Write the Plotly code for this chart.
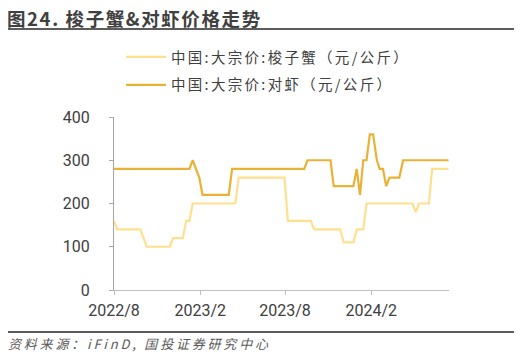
import plotly.graph_objects as go

# 梭子蟹 (crab) price breakpoints
crab_dates = ["2022-08-01", "2022-08-08", "2022-09-26", "2022-10-10", "2022-11-28", "2022-12-05",
              "2022-12-26", "2023-01-02", "2023-01-09", "2023-01-16", "2023-04-17", "2023-04-24",
              "2023-07-31", "2023-08-07", "2023-09-25", "2023-10-02", "2023-11-27", "2023-12-04",
              "2023-12-25", "2024-01-01", "2024-01-15", "2024-01-22", "2024-04-29", "2024-05-06",
              "2024-05-13", "2024-06-03", "2024-06-10", "2024-07-15"]
crab_vals = [160, 140, 140, 100, 100, 120,
             120, 160, 160, 200, 200, 260,
             260, 160, 160, 140, 140, 110,
             110, 140, 140, 200, 200, 180,
             200, 200, 280, 280]

# 对虾 (shrimp) price breakpoints
shrimp_dates = ["2022-08-01", "2023-01-09", "2023-01-16", "2023-01-30", "2023-02-06", "2023-04-03",
                "2023-04-10", "2023-09-11", "2023-09-18", "2023-11-06", "2023-11-13", "2023-12-25",
                "2024-01-01", "2024-01-08", "2024-01-15", "2024-01-22", "2024-01-29", "2024-02-05",
                "2024-02-13", "2024-02-19", "2024-02-26", "2024-03-04", "2024-03-11", "2024-04-01",
                "2024-04-09", "2024-07-15"]
shrimp_vals = [280, 280, 300, 260, 220, 220,
               280, 280, 300, 300, 240, 240,
               280, 220, 300, 300, 360, 360,
               300, 280, 280, 240, 260, 260,
               300, 300]

tick_vals = ["2022-08-01", "2023-02-01", "2023-08-01", "2024-02-01"]
tick_text = ["2022/8", "2023/2", "2023/8", "2024/2"]

crab_name = "中国:大宗价:梭子蟹（元/公斤）"
shrimp_name = "中国:大宗价:对虾（元/公斤）"
title_text = "图24. 梭子蟹&对虾价格走势"
source_text = "资料来源：iFinD, 国投证券研究中心"

FONT = "Noto Sans CJK SC"
OFF = 8  # page body margin


def spaced(t, ls, extra=""):
    return '<span style="%sletter-spacing:%spx">%s</span>' % (extra, ls, t)


fig = go.Figure()
fig.add_trace(go.Scatter(x=crab_dates, y=crab_vals, mode="lines",
                         name=spaced(crab_name, 2.3), legendgroup="a",
                         line=dict(color="#FFE08E", width=2.2)))
fig.add_trace(go.Scatter(x=shrimp_dates, y=shrimp_vals, mode="lines",
                         name=spaced(shrimp_name, 2.3), legendgroup="b",
                         line=dict(color="#E9B236", width=2.2)))

L, R, T, B = 114 - OFF, 449 - OFF, 117 - OFF, 290 - OFF
W, H = 522 - OFF, 357 - OFF
PW = float(R - L)
PH = float(B - T)


def px_x(p):
    return (p - OFF - L) / PW


def px_y(p):
    return (B - (p - OFF)) / PH


fig.update_layout(
    width=W, height=H,
    margin=dict(l=L, r=W - R, t=T, b=H - B),
    paper_bgcolor="white", plot_bgcolor="white",
    font=dict(family=FONT, color="#404040"),
    showlegend=True,
    legend=dict(x=px_x(121), y=px_y(41), xanchor="left", yanchor="top",
                font=dict(size=14.5, color="#404040", family=FONT),
                bgcolor="rgba(0,0,0,0)", tracegroupgap=6, itemwidth=40),
    xaxis=dict(type="date", range=["2022-08-01", "2024-07-16"],
               tickvals=tick_vals, ticktext=tick_text,
               showgrid=False, showline=True, linecolor="#BFBFBF", linewidth=1,
               ticks="outside", ticklen=4, tickcolor="#BFBFBF",
               tickfont=dict(size=16, color="#404040", family="Roboto"),
               zeroline=False, ticklabelstandoff=2),
    yaxis=dict(range=[0, 400], tickvals=[0, 100, 200, 300, 400],
               showgrid=False, showline=True, linecolor="#A6A6A6", linewidth=1,
               ticks="outside", ticklen=4, tickcolor="#A6A6A6",
               tickfont=dict(size=16, color="#404040", family="Roboto"),
               zeroline=False, ticklabelstandoff=16),
    annotations=[
        dict(text="<b>" + spaced(title_text, 1.6) + "</b>", x=px_x(6), y=px_y(17.5),
             xref="paper", yref="paper", xanchor="left", yanchor="middle",
             showarrow=False, borderpad=0,
             font=dict(size=18.5, color="#404040", family=FONT)),
        dict(text="<i>" + spaced(source_text, 2.8) + "</i>", x=px_x(6), y=px_y(343),
             xref="paper", yref="paper", xanchor="left", yanchor="middle",
             showarrow=False, font=dict(size=13, color="#595959", family=FONT)),
    ],
    shapes=[
        dict(type="line", xref="paper", yref="paper", x0=px_x(6), x1=px_x(516),
             y0=px_y(29), y1=px_y(29), line=dict(color="#262626", width=1.5)),
        dict(type="line", xref="paper", yref="paper", x0=px_x(6), x1=px_x(516),
             y0=px_y(332), y1=px_y(332), line=dict(color="#262626", width=1.5)),
    ],
)

fig.write_html("out.html")
